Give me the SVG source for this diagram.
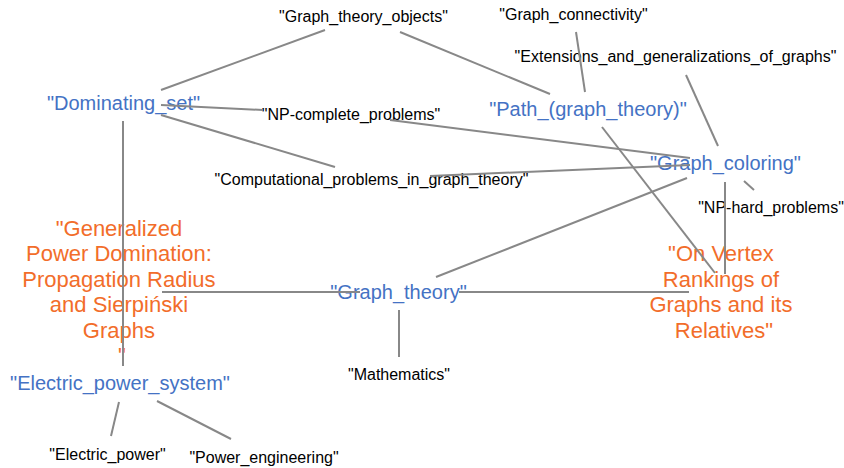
<svg xmlns="http://www.w3.org/2000/svg" width="844" height="468" viewBox="0 0 844 468">
<style>
text{font-family:"Liberation Sans",Arial,sans-serif;text-anchor:middle}
.k{font-size:16px;fill:#000}
.b{font-size:20px;fill:#4472c4}
.o{font-size:22px;fill:#f26d2a}
.e line{stroke:#888;stroke-width:2;stroke-linecap:butt}
</style>
<rect width="844" height="468" fill="#fff"/>
<g id="n_graph_theory_objects"><text class="k" x="363.5" y="22">"Graph_theory_objects"</text></g>
<g id="n_graph_connectivity"><text class="k" x="573.5" y="20">"Graph_connectivity"</text></g>
<g id="n_extensions"><text class="k" x="675.5" y="62">"Extensions_and_generalizations_of_graphs"</text></g>
<g id="n_dominating_set"><text class="b" x="123.5" y="110">"Dominating_set"</text></g>
<g id="n_np_complete"><text class="k" x="351" y="120">"NP-complete_problems"</text></g>
<g id="n_path"><text class="b" x="588" y="116">"Path_(graph_theory)"</text></g>
<g id="n_graph_coloring"><text class="b" x="725.5" y="169.5">"Graph_coloring"</text></g>
<g id="n_computational"><text class="k" x="371.5" y="184.5">"Computational_problems_in_graph_theory"</text></g>
<g id="n_np_hard"><text class="k" x="771" y="213">"NP-hard_problems"</text></g>
<g id="n_generalized"><text class="o" x="122">
<tspan x="122" y="235.5">"Generalized</tspan>
<tspan x="122" y="261">Power Domination:</tspan>
<tspan x="122" y="286.5">Propagation Radius</tspan>
<tspan x="122" y="312">and Sierpiński</tspan>
<tspan x="122" y="337.5">Graphs</tspan>
<tspan x="122" y="363">"</tspan></text></g>
<g id="n_on_vertex"><text class="o" x="724">
<tspan x="724" y="261">"On Vertex</tspan>
<tspan x="724" y="286.5">Rankings of</tspan>
<tspan x="724" y="312">Graphs and its</tspan>
<tspan x="724" y="337.5">Relatives"</tspan></text></g>
<g id="n_graph_theory"><text class="b" x="398.5" y="298.5">"Graph_theory"</text></g>
<g id="n_mathematics"><text class="k" x="399" y="380">"Mathematics"</text></g>
<g id="n_electric_power_system"><text class="b" x="120" y="390">"Electric_power_system"</text></g>
<g id="n_electric_power"><text class="k" x="107.5" y="460">"Electric_power"</text></g>
<g id="n_power_engineering"><text class="k" x="264" y="463">"Power_engineering"</text></g>
<g id="connectors" class="e">
<line x1="161" y1="90" x2="325" y2="30"/>
<line x1="400" y1="32" x2="550" y2="94"/>
<line x1="161" y1="105" x2="263" y2="110"/>
<line x1="390" y1="120" x2="690" y2="158"/>
<line x1="161" y1="115" x2="335" y2="167"/>
<line x1="430" y1="176" x2="690" y2="165"/>
<line x1="123" y1="121" x2="123" y2="290"/>
<line x1="123" y1="290" x2="123" y2="366"/>
<line x1="162" y1="292" x2="360" y2="292"/>
<line x1="459" y1="292" x2="689" y2="292"/>
<line x1="436" y1="277" x2="687" y2="178"/>
<line x1="399" y1="310" x2="399" y2="357"/>
<line x1="602" y1="127" x2="715" y2="273"/>
<line x1="576" y1="32" x2="585" y2="92"/>
<line x1="686" y1="75" x2="718" y2="146"/>
<line x1="744" y1="181" x2="754" y2="190"/>
<line x1="725" y1="182" x2="725" y2="274"/>
<line x1="119" y1="402" x2="111" y2="436"/>
<line x1="157" y1="401" x2="231" y2="439"/>
</g>
</svg>
